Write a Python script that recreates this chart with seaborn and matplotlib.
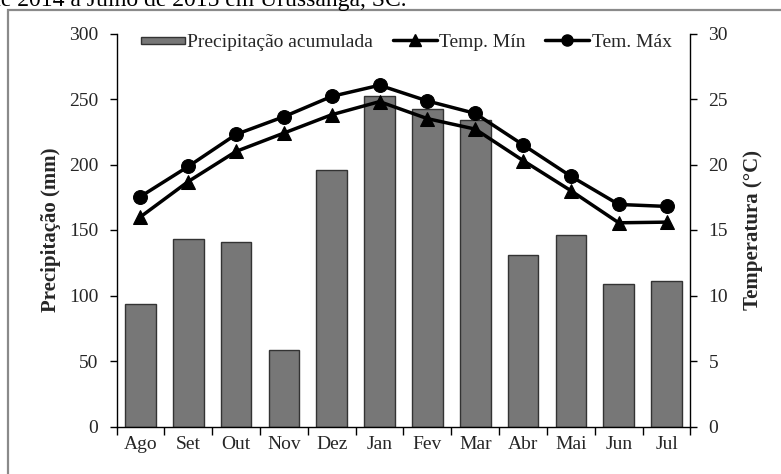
import numpy as np
import pandas as pd
import seaborn as sns
import matplotlib
matplotlib.use("Agg")
import matplotlib.pyplot as plt
from matplotlib.lines import Line2D
from matplotlib.patches import Patch, Rectangle
from matplotlib.legend_handler import HandlerPatch

# donnees
meses = ["Ago", "Set", "Out", "Nov", "Dez", "Jan", "Fev", "Mar", "Abr", "Mai", "Jun", "Jul"]
precipitacao = [93.5, 143.5, 140.5, 58.5, 195.5, 252, 242, 234, 131, 146, 108.5, 111]
temp_min = [16.0, 18.7, 21.0, 22.4, 23.8, 24.8, 23.5, 22.7, 20.3, 18.0, 15.55, 15.6]
temp_max = [17.55, 19.85, 22.3, 23.65, 25.2, 26.05, 24.85, 23.9, 21.5, 19.1, 16.95, 16.8]

df = pd.DataFrame({"mes": meses, "prec": precipitacao,
                   "tmin": temp_min, "tmax": temp_max, "pos": np.arange(len(meses))})

sns.set_theme(style="white")
plt.rcParams['font.family'] = ['Liberation Serif', 'DejaVu Serif']

fig = plt.figure(figsize=(7.81, 4.74), dpi=100)
ax = fig.add_axes([116.5/781, 1 - 426.5/474, (690.5-116.5)/781, (426.5-33.5)/474])

# cadre gris de la zone du graphique
fig.patches.append(Rectangle((8/781, -0.1), 1.2, 1 - 10/474 + 0.1, transform=fig.transFigure,
                             fill=False, edgecolor="#8a8a8a", linewidth=1.6))

# titre coupe en haut
fig.text(-11/781, 1 - 6/474, "de 2014 a Julho de 2015 em Urussanga, SC.", fontsize=17,
         ha="left", va="baseline", color="black")

sns.barplot(data=df, x="mes", y="prec", color="#777777", saturation=1, width=0.64,
            edgecolor="#333333", linewidth=1, ax=ax)
ax.set_ylim(0, 300)
ax.set_xlim(-0.5, 11.5)
ax.set_yticks(np.arange(0, 301, 50))
ax.set_xlabel("")
ax.set_ylabel("Precipitação (mm)", fontsize=15, fontweight="bold", labelpad=6)

ax2 = ax.twinx()
sns.lineplot(data=df, x="pos", y="tmin", marker="^", markersize=10, color="black",
             linewidth=2.5, markeredgecolor="black", ax=ax2)
sns.lineplot(data=df, x="pos", y="tmax", marker="o", markersize=10, color="black",
             linewidth=2.5, markeredgecolor="black", ax=ax2)
ax2.set_ylim(0, 30)
ax2.set_xlim(-0.5, 11.5)
ax2.set_yticks(np.arange(0, 31, 5))
ax2.set_ylabel("Temperatura (°C)", fontsize=15, fontweight="bold", labelpad=11)
ax2.set_xlabel("")

for a in (ax, ax2):
    a.spines["top"].set_visible(False)
    for s in a.spines.values():
        s.set_color("black")
        s.set_linewidth(1)
ax2.spines["left"].set_visible(False)
ax2.spines["bottom"].set_visible(False)
ax.spines["right"].set_visible(False)

# graduations x entre les categories
ax.set_xticks(np.arange(-0.5, 12, 1))
ax.set_xticklabels([])
ax.set_xticks(np.arange(12), minor=True)
ax.set_xticklabels(meses, minor=True, fontsize=14)
ax.tick_params(axis="x", which="major", direction="out", length=6, width=1, color="black", bottom=True)
ax.tick_params(axis="x", which="minor", length=0, pad=7)
ax.tick_params(axis="y", direction="out", length=5, width=1, color="black", left=True, labelsize=14, pad=8)
ax2.tick_params(axis="y", direction="out", length=5, width=1, color="black", right=True, labelsize=14, pad=8)
ax.grid(False)
ax2.grid(False)


def patch_court(legend, orig_handle, xdescent, ydescent, width, height, fontsize):
    return Rectangle((-xdescent, -ydescent + height * 0.25), width, height * 0.5)


handles = [Patch(facecolor="#777777", edgecolor="#333333"),
           Line2D([], [], color="black", lw=2.5, marker="^", markersize=8),
           Line2D([], [], color="black", lw=2.5, marker="o", markersize=8)]
labels = ["Precipitação acumulada", "Temp. Mín", "Tem. Máx"]
ax2.legend(handles, labels, loc="upper center", bbox_to_anchor=(0.505, 1.045), ncol=3, frameon=False,
           fontsize=14, handlelength=2.25, handletextpad=0.15, columnspacing=1.0,
           handler_map={Patch: HandlerPatch(patch_func=patch_court)})

fig.savefig("out.png", dpi=100)
